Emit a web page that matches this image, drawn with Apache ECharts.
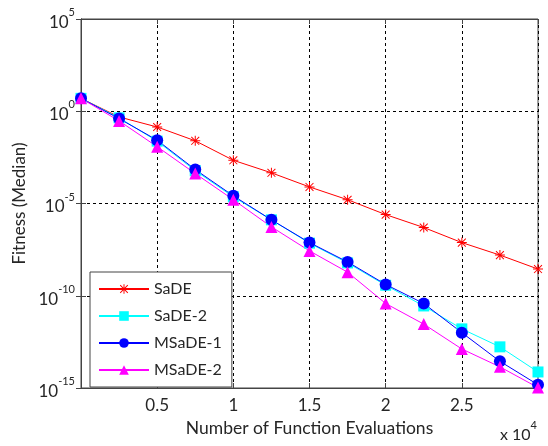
<!DOCTYPE html>
<html>
<head>
<meta charset="utf-8">
<script src="https://cdn.jsdelivr.net/npm/echarts@6/dist/echarts.min.js"></script>
<style>
  html, body { margin: 0; padding: 0; background: #fff; }
  #chart { width: 548px; height: 446px; }
</style>
</head>
<body>
<div id="chart"></div>
<script>
// function evaluations (x axis)
var evals = [0, 2500, 5000, 7500, 10000, 12500, 15000, 17500, 20000, 22500, 25000, 27500, 30000];

// median fitness per algorithm
var sade   = [5.0e0, 4.9e-1, 1.4e-1, 2.5e-2, 2.2e-3, 4.6e-4, 7.9e-5, 1.6e-5, 2.5e-6, 5.0e-7, 7.6e-8, 1.6e-8, 2.8e-9];
var sade2  = [5.0e0, 4.4e-1, 2.4e-2, 6.0e-4, 2.3e-5, 1.3e-6, 7.1e-8, 6.0e-9, 3.7e-10, 2.8e-11, 1.6e-12, 1.7e-13, 7.4e-15];
var msade1 = [5.0e0, 4.0e-1, 2.7e-2, 6.9e-4, 2.6e-5, 1.3e-6, 7.6e-8, 6.8e-9, 4.1e-10, 3.8e-11, 1.0e-12, 2.8e-14, 1.5e-15];
var msade2 = [5.0e0, 3.0e-1, 1.2e-2, 4.2e-4, 1.6e-5, 5.4e-7, 2.7e-8, 1.9e-9, 3.8e-11, 2.9e-12, 1.3e-13, 1.4e-14, 1.05e-15];

var names = ['SaDE', 'SaDE-2', 'MSaDE-1', 'MSaDE-2'];

function pairs(ys) {
    var out = [];
    for (var i = 0; i < evals.length; i++) out.push([evals[i], ys[i]]);
    return out;
}

var star = 'path://M4.5,0 L5.5,0 L5.5,10 L4.5,10 Z M0,4.5 L10,4.5 L10,5.5 L0,5.5 Z M0.7,1.4 L1.4,0.7 L9.3,8.6 L8.6,9.3 Z M8.6,0.7 L9.3,1.4 L1.4,9.3 L0.7,8.6 Z';
var font = 'Lato';
var ink = '#262626';

var dashed = { show: true, lineStyle: { color: '#000', type: [3, 3], width: 1 } };

var myChart = echarts.init(document.getElementById('chart'), null, { renderer: 'canvas' });

var option = {
    backgroundColor: '#fff',
    animation: false,
    textStyle: { fontFamily: font },
    grid: { left: 81, right: 10, top: 19, bottom: 58, show: true, borderColor: '#444', borderWidth: 1 },
    legend: {
        orient: 'vertical',
        left: 90,
        top: 272,
        width: 142,
        itemWidth: 50,
        itemHeight: 12,
        itemGap: 11,
        padding: [9, 10, 9, 8],
        borderColor: '#444',
        borderWidth: 1,
        backgroundColor: '#fff',
        textStyle: { fontFamily: font, fontSize: 16, color: ink },
        data: names
    },
    xAxis: [{
        type: 'value',
        min: 0,
        max: 30000,
        interval: 5000,
        name: 'Number of Function Evaluations',
        nameLocation: 'middle',
        nameGap: 31,
        nameTextStyle: { fontFamily: font, fontSize: 17.5, color: ink },
        axisLine: { show: true, lineStyle: { color: '#444' } },
        axisTick: { show: true, inside: true, length: 5, lineStyle: { color: '#444' } },
        axisLabel: {
            margin: 9, fontFamily: font, fontSize: 17, color: ink,
            formatter: function (v) { return (v === 0 || v === 30000) ? '' : String(v / 10000); }
        },
        splitLine: dashed
    }, {
        type: 'value',
        position: 'top',
        min: 0,
        max: 30000,
        interval: 5000,
        axisLine: { show: true, lineStyle: { color: '#444' } },
        axisTick: { show: true, inside: true, length: 5, lineStyle: { color: '#444' } },
        axisLabel: { show: false },
        splitLine: { show: false }
    }],
    yAxis: [{
        type: 'log',
        logBase: 10,
        min: 1e-15,
        max: 1e5,
        interval: 5,
        name: 'Fitness (Median)',
        nameLocation: 'middle',
        nameGap: 48,
        nameTextStyle: { fontFamily: font, fontSize: 17, color: ink },
        axisLine: { show: true, lineStyle: { color: '#444' } },
        axisTick: { show: true, inside: true, length: 5, lineStyle: { color: '#444' } },
        axisLabel: {
            margin: 6,
            formatter: function (v) {
                var e = Math.round(Math.log10(v));
                return '{b|10}{s|' + e + '}';
            },
            rich: {
                b: { fontFamily: font, fontSize: 17, color: ink, padding: [7, 0, 0, 0] },
                s: { fontFamily: font, fontSize: 11, color: ink, verticalAlign: 'top', padding: [0, 0, 8, 0] }
            }
        },
        splitLine: dashed
    }, {
        type: 'log',
        logBase: 10,
        position: 'right',
        min: 1e-15,
        max: 1e5,
        interval: 5,
        axisLine: { show: true, lineStyle: { color: '#444' } },
        axisTick: { show: true, inside: true, length: 5, lineStyle: { color: '#444' } },
        axisLabel: { show: false },
        splitLine: { show: false }
    }],
    graphic: [{
        type: 'text',
        left: 500,
        top: 420,
        style: {
            text: '{b|x 10}{s|4}',
            rich: {
                b: { fontFamily: font, fontSize: 16, fill: ink, padding: [7, 0, 0, 0] },
                s: { fontFamily: font, fontSize: 11, fill: ink, verticalAlign: 'top' }
            }
        }
    }],
    series: [{
        name: 'SaDE', type: 'line', data: pairs(sade),
        symbol: star, symbolSize: 10,
        itemStyle: { color: '#ff0000' }, lineStyle: { color: '#ff0000', width: 1 }
    }, {
        name: 'SaDE-2', type: 'line', data: pairs(sade2),
        symbol: 'rect', symbolSize: 11,
        itemStyle: { color: '#00ffff' }, lineStyle: { color: '#00ffff', width: 1 }
    }, {
        name: 'MSaDE-1', type: 'line', data: pairs(msade1),
        symbol: 'circle', symbolSize: 12,
        itemStyle: { color: '#0000ff' }, lineStyle: { color: '#0000ff', width: 1 }
    }, {
        name: 'MSaDE-2', type: 'line', data: pairs(msade2),
        symbol: 'triangle', symbolSize: 12,
        itemStyle: { color: '#ff00ff' }, lineStyle: { color: '#ff00ff', width: 1 }
    }]
};

myChart.setOption(option);
</script>
</body>
</html>
